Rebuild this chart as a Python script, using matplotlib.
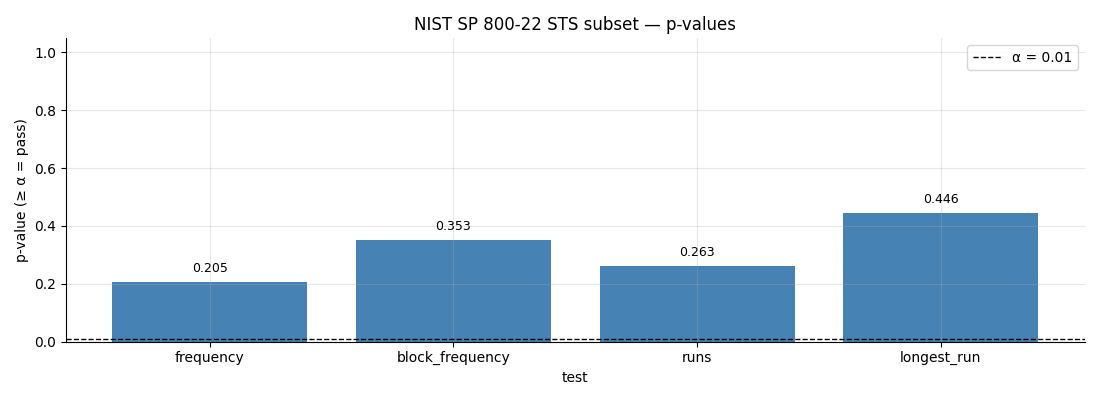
import matplotlib
matplotlib.use('Agg')
import matplotlib.pyplot as plt

tests = ['frequency', 'block_frequency', 'runs', 'longest_run']
p_values = [0.205, 0.353, 0.263, 0.446]
alpha = 0.01

fig, ax = plt.subplots(figsize=(11, 4), dpi=100)
bars = ax.bar(tests, p_values, color='steelblue', width=0.8)
ax.bar_label(bars, labels=[f'{v:.3f}' for v in p_values], padding=5, fontsize=9)
ax.axhline(alpha, color='black', linestyle='--', linewidth=1, label=f'α = {alpha}')
ax.set_ylim(0, 1.05)
ax.set_xlabel('test')
ax.set_ylabel('p-value (≥ α = pass)')
ax.set_title('NIST SP 800-22 STS subset — p-values')
ax.grid(True, alpha=0.3)
ax.legend(loc='upper right')
ax.spines['top'].set_visible(False)
ax.spines['right'].set_visible(False)
fig.subplots_adjust(left=0.06, right=0.986, top=0.905, bottom=0.146)
plt.savefig('out.png')
